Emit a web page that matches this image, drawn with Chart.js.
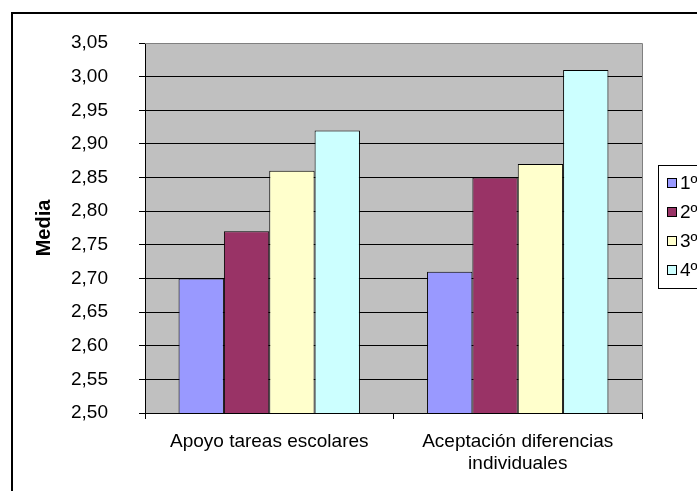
<!DOCTYPE html>
<html>
<head>
<meta charset="utf-8">
<script src="https://cdn.jsdelivr.net/npm/chart.js@4.4.0/dist/chart.umd.min.js"></script>
<style>
  html, body { margin: 0; padding: 0; background: #fff; overflow: hidden; }
  #wrap { position: relative; width: 697px; height: 491px; }
</style>
</head>
<body>
<div id="wrap"><canvas id="myChart" width="697" height="491"></canvas></div>
<script>
const categorias = ['Apoyo tareas escolares', ['Aceptación diferencias', 'individuales']];
const cursos = ['1º', '2º', '3º', '4º'];
const primero = [2.70, 2.71];
const segundo = [2.77, 2.85];
const tercero = [2.86, 2.87];
const cuarto = [2.92, 3.01];
const colores = ['#9999FF', '#993366', '#FFFFCC', '#CCFFFF'];

const fuente = 'Arial, "Liberation Sans", sans-serif';
Chart.defaults.font.family = fuente;
Chart.defaults.color = '#000';

// fondo gris del area de trazado, borde del grafico y leyenda a mano
const fondo = {
  id: 'fondo',
  beforeDraw(chart) {
    const c = chart.ctx, a = chart.chartArea;
    c.save();
    c.fillStyle = '#C0C0C0';
    c.fillRect(a.left, a.top, a.right - a.left, a.bottom - a.top);
    c.restore();
  },
  afterDraw(chart) {
    const c = chart.ctx, a = chart.chartArea;
    c.save();
    // borde del area de trazado
    c.strokeStyle = '#808080';
    c.lineWidth = 1;
    c.beginPath();
    c.moveTo(a.left, a.top + 0.5);
    c.lineTo(a.right + 0.5, a.top + 0.5);
    c.lineTo(a.right + 0.5, a.bottom);
    c.stroke();
    // borde exterior
    c.strokeStyle = '#000';
    c.lineWidth = 2;
    c.beginPath();
    c.moveTo(12, 491);
    c.lineTo(12, 13);
    c.lineTo(697, 13);
    c.stroke();
    // leyenda
    const lx = 658, ly = 165, paso = 29;
    c.lineWidth = 1;
    c.strokeStyle = '#000';
    c.strokeRect(lx + 0.5, ly + 0.5, 60, 123);
    c.font = '19px ' + fuente;
    c.textBaseline = 'middle';
    chart.data.datasets.forEach((ds, i) => {
      const cy = ly + 18 + i * paso;
      c.fillStyle = ds.backgroundColor;
      c.fillRect(lx + 9, cy - 4, 9, 9);
      c.strokeRect(lx + 9.5, cy - 4.5, 9, 9);
      c.fillStyle = '#000';
      c.fillText(ds.label, lx + 22, cy + 1);
    });
    c.restore();
  }
};

const series = [primero, segundo, tercero, cuarto];

new Chart(document.getElementById('myChart'), {
  type: 'bar',
  data: {
    labels: categorias,
    datasets: series.map((d, i) => ({
      label: cursos[i],
      data: d,
      backgroundColor: colores[i],
      borderColor: '#000',
      borderWidth: 1,
      borderSkipped: 'bottom',
      categoryPercentage: 0.73,
      barPercentage: 1
    }))
  },
  options: {
    responsive: false,
    animation: false,
    layout: { padding: { top: 43, right: 55, left: 0, bottom: 0 } },
    plugins: {
      legend: { display: false },
      tooltip: { enabled: false }
    },
    scales: {
      y: {
        min: 2.5,
        max: 3.05,
        afterFit(scale) { scale.width = 145; },
        ticks: {
          stepSize: 0.05,
          padding: 31,
          font: { size: 19 },
          callback: v => v.toFixed(2).replace('.', ',')
        },
        grid: { color: '#000', tickLength: 6 },
        border: { color: '#000', width: 1 },
        title: {
          display: true,
          text: 'Media',
          font: { size: 20, weight: 'bold' },
          padding: { top: 32, bottom: 0 }
        }
      },
      x: {
        afterFit(scale) { scale.height = 78; },
        ticks: { padding: 11, font: { size: 19 }, maxRotation: 0 },
        grid: { color: '#000', tickLength: 6, drawOnChartArea: false },
        border: { color: '#000', width: 1 }
      }
    }
  },
  plugins: [fondo]
});
</script>
</body>
</html>
